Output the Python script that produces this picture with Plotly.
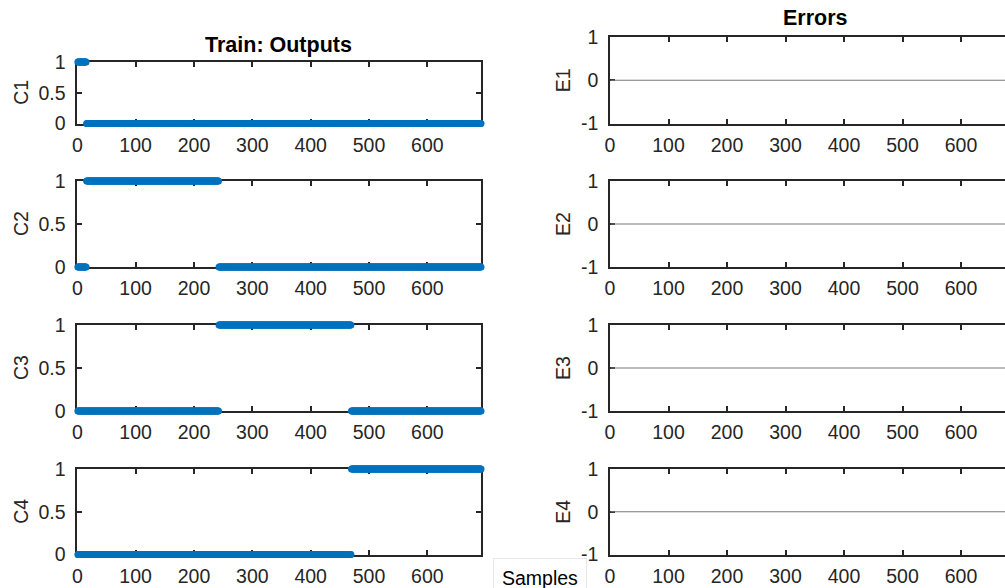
import plotly.graph_objects as go

# ---- data ----
n_samples = 692
class_names = ["C1", "C2", "C3", "C4"]
error_names = ["E1", "E2", "E3", "E4"]
class_first = [1, 16, 243, 470]     # first sample of each class block
class_last = [15, 242, 469, 692]    # last sample of each class block
error_level = [0, 0, 0, 0]          # errors are all zero
x_ticks = [0, 100, 200, 300, 400, 500, 600]
left_y_ticks = [0, 0.5, 1]
left_y_labels = ["0", "0.5", "1"]
right_y_ticks = [-1, 0, 1]
right_y_labels = ["-1", "0", "1"]

samples = list(range(1, n_samples + 1))
targets = []
for k in range(4):
    targets.append([1 if class_first[k] <= s <= class_last[k] else 0 for s in samples])

# ---- layout geometry (pixels) ----
W, H = 1005, 588
def fx(p):
    return p / W
def fy(p):
    return 1 - p / H

left_x = (77.3, 481)
right_x = (610, 1005)
left_rows = [(62, 123.5), (181, 267), (325, 411), (469, 554.5)]
right_rows = [(37, 123.5), (181, 267), (325, 411), (469, 554.5)]

AX = "#262626"
BLUE = "#0072BD"
FONT = "Liberation Sans, Arial, sans-serif"
TICK_SIZE = 19.5

fig = go.Figure()
layout = dict(
    width=W, height=H, margin=dict(l=0, r=0, t=0, b=0, autoexpand=False),
    paper_bgcolor="white", plot_bgcolor="white", showlegend=False,
    font=dict(family=FONT, size=TICK_SIZE, color=AX),
)

common = dict(ticks="inside", ticklen=5, tickwidth=1.5, tickcolor=AX,
              showline=True, linecolor=AX, linewidth=1.6,
              showgrid=False, zeroline=False, layer="below traces", automargin=False,
              tickfont=dict(size=TICK_SIZE, color=AX, family=FONT))

annotations = []
for k in range(4):
    # left column: outputs
    i = 2 * k + 1
    xa = "x" if i == 1 else f"x{i}"
    ya = "y" if i == 1 else f"y{i}"
    fig.add_trace(go.Scatter(
        x=samples, y=targets[k], mode="markers", xaxis=xa, yaxis=ya,
        marker=dict(size=7, color=BLUE, line=dict(width=0)),
        cliponaxis=False, hoverinfo="skip"))
    top, bot = left_rows[k]
    layout["xaxis" if i == 1 else f"xaxis{i}"] = dict(
        domain=[fx(left_x[0]), fx(left_x[1])], range=[0, n_samples], anchor=ya,
        tickvals=x_ticks, mirror="ticks", ticklabelstandoff=3, **common)
    layout["yaxis" if i == 1 else f"yaxis{i}"] = dict(
        domain=[fy(bot), fy(top)], range=[0, 1], anchor=xa,
        tickvals=left_y_ticks, ticktext=left_y_labels,
        mirror="ticks", ticklabelstandoff=6, **common)
    annotations.append(dict(
        text=class_names[k], x=fx(21), y=fy((top + bot) / 2), xref="paper", yref="paper",
        showarrow=False, textangle=-90, font=dict(size=TICK_SIZE, color=AX, family=FONT),
        xanchor="center", yanchor="middle"))

    # right column: errors
    j = 2 * k + 2
    xb = f"x{j}"
    yb = f"y{j}"
    fig.add_trace(go.Scatter(
        x=[samples[0], samples[-1]], y=[error_level[k], error_level[k]], mode="lines",
        xaxis=xb, yaxis=yb, line=dict(color="#7a7a7a", width=1.2), hoverinfo="skip"))
    top, bot = right_rows[k]
    layout[f"xaxis{j}"] = dict(
        domain=[fx(right_x[0]), 1.0], range=[0, (right_x[1] - right_x[0]) / 0.585], anchor=yb,
        tickvals=x_ticks, mirror="ticks", ticklabelstandoff=3, **common)
    layout[f"yaxis{j}"] = dict(
        domain=[fy(bot), fy(top)], range=[-1, 1], anchor=xb,
        tickvals=right_y_ticks, ticktext=right_y_labels,
        mirror=False, ticklabelstandoff=6, **common)
    annotations.append(dict(
        text=error_names[k], x=fx(563), y=fy((top + bot) / 2), xref="paper", yref="paper",
        showarrow=False, textangle=-90, font=dict(size=TICK_SIZE, color=AX, family=FONT),
        xanchor="center", yanchor="middle"))

annotations.append(dict(
    text="<b>Train: Outputs</b>", x=fx(278), y=fy(45), xref="paper", yref="paper",
    showarrow=False, font=dict(size=21.5, color="black", family=FONT),
    xanchor="center", yanchor="middle"))
annotations.append(dict(
    text="<b>Errors</b>", x=fx(815), y=fy(18), xref="paper", yref="paper",
    showarrow=False, font=dict(size=21.5, color="black", family=FONT),
    xanchor="center", yanchor="middle"))
annotations.append(dict(
    text="Samples", x=fx(540), y=fy(577.5), xref="paper", yref="paper",
    showarrow=False, font=dict(size=TICK_SIZE, color="black", family=FONT),
    xanchor="center", yanchor="middle", bgcolor="white",
    bordercolor="#e8e8e8", borderwidth=1, borderpad=8))

layout["annotations"] = annotations
fig.update_layout(**layout)
fig.write_html("out.html", config={"displayModeBar": False},
               post_script="document.body.style.margin='0';document.body.style.padding='0';document.body.style.overflow='hidden';")
